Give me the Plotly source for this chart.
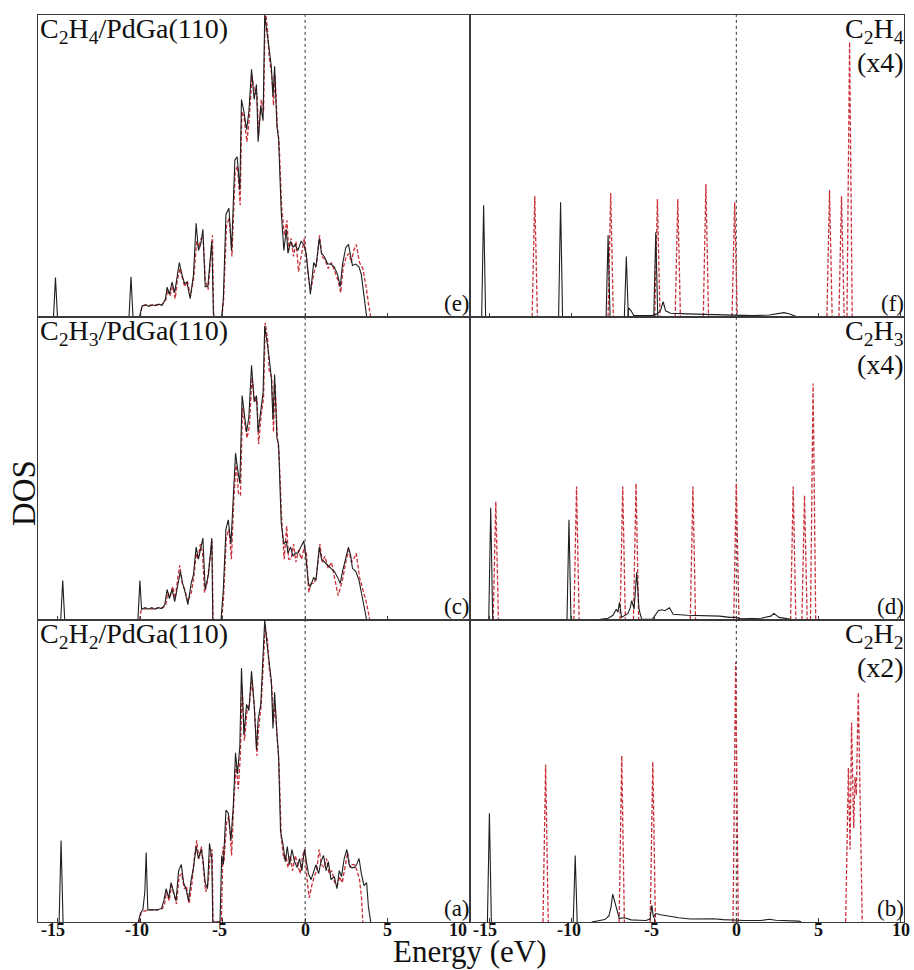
import plotly.graph_objects as go

FONT = "Liberation Serif, Times New Roman, serif"
ENERGY_TICKS = [-15, -10, -5, 0, 5, 10]
FERMI_LEVEL = 0.0
X_RANGE_LEFT = [-16.2, 10.0]
X_RANGE_RIGHT = [-16.2, 10.2]

# ---------------- Left column: adsorbate/PdGa(110) total DOS ----------------
# panel (e) C2H4/PdGa(110)
e_black = [[-10.05,0],[-9.98,0.02],[-9.88,0.037],[-9.68,0.04],[-9.48,0.035],[-9.28,0.04],[-9.08,0.037],
    [-8.88,0.042],[-8.67,0.038],[-8.47,0.06],[-8.37,0.098],[-8.23,0.075],[-8.07,0.115],[-7.91,0.08],
    [-7.77,0.13],[-7.63,0.18],[-7.47,0.14],[-7.31,0.11],[-7.17,0.115],[-6.97,0.06],[-6.77,0.14],
    [-6.61,0.31],[-6.47,0.22],[-6.33,0.24],[-6.20,0.29],[-6.06,0.10],[-5.90,0.10],[-5.76,0.18],
    [-5.66,0.25],[-5.56,0.01],[-5.50,0.0],[-5.06,0.0],[-4.96,0.06],[-4.80,0.34],[-4.62,0.36],
    [-4.46,0.22],[-4.26,0.52],[-4.12,0.53],[-3.96,0.42],[-3.86,0.72],[-3.71,0.68],[-3.55,0.62],
    [-3.41,0.68],[-3.25,0.82],[-3.09,0.72],[-2.95,0.77],[-2.85,0.58],[-2.69,0.70],[-2.55,0.65],
    [-2.45,1.0],[-2.31,0.95],[-2.21,0.90],[-2.05,0.83],[-1.95,0.73],[-1.85,0.83],[-1.71,0.63],
    [-1.61,0.59],[-1.45,0.35],[-1.29,0.22],[-1.14,0.29],[-1.04,0.21],[-0.88,0.25],[-0.74,0.23],
    [-0.60,0.24],[-0.44,0.22],[-0.24,0.25],[-0.08,0.24],[0.06,0.21],[0.20,0.14],[0.32,0.075],
    [0.52,0.18],[0.66,0.165],[0.86,0.26],[1.00,0.21],[1.16,0.20],[1.37,0.175],[1.57,0.175],
    [1.77,0.165],[1.97,0.14],[2.13,0.10],[2.27,0.175],[2.47,0.23],[2.63,0.24],[2.77,0.20],
    [2.87,0.17],[3.07,0.175],[3.27,0.165],[3.41,0.14],[3.57,0.075],[3.73,0.0]]
e_red = [[-10.0,0],[-9.9,0.035],[-9.6,0.04],[-9.3,0.038],[-9.0,0.04],[-8.7,0.04],[-8.45,0.055],
    [-8.33,0.09],[-8.2,0.07],[-8.03,0.10],[-7.88,0.06],[-7.75,0.12],[-7.6,0.16],[-7.45,0.13],
    [-7.3,0.10],[-7.15,0.12],[-6.95,0.07],[-6.75,0.13],[-6.58,0.25],[-6.45,0.23],[-6.3,0.26],
    [-6.18,0.26],[-6.05,0.12],[-5.88,0.09],[-5.72,0.2],[-5.62,0.27],[-5.55,0.0],[-5.05,0.0],
    [-4.95,0.05],[-4.77,0.3],[-4.6,0.33],[-4.44,0.2],[-4.24,0.48],[-4.1,0.5],[-3.94,0.37],
    [-3.84,0.68],[-3.7,0.66],[-3.53,0.58],[-3.38,0.66],[-3.22,0.80],[-3.06,0.74],[-2.92,0.74],
    [-2.82,0.60],[-2.66,0.72],[-2.52,0.68],[-2.42,1.02],[-2.28,0.95],[-2.18,0.86],[-2.02,0.8],
    [-1.92,0.70],[-1.82,0.80],[-1.68,0.63],[-1.58,0.58],[-1.42,0.36],[-1.26,0.27],[-1.1,0.32],
    [-1.0,0.22],[-0.85,0.26],[-0.7,0.20],[-0.55,0.25],[-0.4,0.15],[-0.2,0.22],[-0.05,0.26],
    [0.08,0.2],[0.22,0.12],[0.35,0.09],[0.55,0.15],[0.7,0.18],[0.88,0.27],[1.02,0.2],[1.2,0.19],
    [1.4,0.16],[1.6,0.18],[1.8,0.15],[2.0,0.12],[2.16,0.08],[2.3,0.16],[2.5,0.2],[2.66,0.21],
    [2.8,0.18],[2.95,0.22],[3.1,0.24],[3.3,0.18],[3.5,0.16],[3.7,0.1],[3.85,0.04],[3.98,0.0]]
e_black_peak_E = [-15.14, -10.56]
e_black_peak_DOS = [0.13, 0.133]

# panel (c) C2H3/PdGa(110)
c_black = [[-10.14,0],[-10.02,0.13],[-9.92,0.035],[-9.7,0.04],[-9.5,0.035],[-9.3,0.04],[-9.1,0.035],
    [-8.9,0.04],[-8.7,0.037],[-8.51,0.05],[-8.37,0.10],[-8.23,0.07],[-8.07,0.10],[-7.91,0.06],
    [-7.77,0.10],[-7.57,0.16],[-7.43,0.12],[-7.27,0.09],[-7.11,0.05],[-6.91,0.12],[-6.77,0.15],
    [-6.61,0.24],[-6.47,0.20],[-6.33,0.24],[-6.20,0.27],[-6.06,0.10],[-5.86,0.15],[-5.66,0.27],
    [-5.60,0.0],[-5.10,0.0],[-4.96,0.10],[-4.80,0.30],[-4.66,0.33],[-4.50,0.25],[-4.36,0.42],
    [-4.22,0.55],[-4.10,0.50],[-3.96,0.45],[-3.82,0.74],[-3.69,0.68],[-3.55,0.62],[-3.41,0.67],
    [-3.25,0.84],[-3.09,0.72],[-2.95,0.74],[-2.85,0.62],[-2.69,0.70],[-2.55,0.75],[-2.45,0.97],
    [-2.31,0.92],[-2.21,0.88],[-2.05,0.80],[-1.95,0.66],[-1.85,0.81],[-1.71,0.60],[-1.61,0.58],
    [-1.45,0.32],[-1.29,0.25],[-1.14,0.26],[-1.04,0.22],[-0.88,0.24],[-0.74,0.21],[-0.60,0.22],
    [-0.44,0.22],[-0.24,0.24],[-0.08,0.26],[0.06,0.20],[0.20,0.12],[0.32,0.11],[0.52,0.14],
    [0.66,0.13],[0.86,0.24],[1.00,0.20],[1.16,0.19],[1.37,0.18],[1.57,0.17],[1.77,0.16],
    [1.97,0.14],[2.13,0.12],[2.27,0.16],[2.47,0.21],[2.63,0.24],[2.77,0.21],[2.87,0.17],
    [3.07,0.16],[3.27,0.13],[3.41,0.09],[3.57,0.05],[3.73,0.0]]
c_red = [[-10.05,0],[-9.95,0.03],[-9.8,0.035],[-9.5,0.037],[-9.2,0.035],[-8.9,0.04],[-8.6,0.04],
    [-8.45,0.05],[-8.33,0.09],[-8.2,0.075],[-8.03,0.11],[-7.88,0.07],[-7.72,0.14],[-7.6,0.18],
    [-7.45,0.12],[-7.3,0.10],[-7.12,0.06],[-6.9,0.09],[-6.75,0.14],[-6.6,0.22],[-6.5,0.20],
    [-6.35,0.25],[-6.22,0.22],[-6.1,0.09],[-5.95,0.12],[-5.75,0.22],[-5.64,0.26],[-5.58,0.0],
    [-5.06,0.0],[-4.95,0.07],[-4.78,0.27],[-4.62,0.30],[-4.47,0.2],[-4.32,0.4],[-4.18,0.52],
    [-4.05,0.42],[-3.92,0.41],[-3.8,0.70],[-3.65,0.64],[-3.52,0.60],[-3.38,0.64],[-3.22,0.80],
    [-3.06,0.72],[-2.92,0.73],[-2.82,0.58],[-2.66,0.68],[-2.52,0.73],[-2.42,0.98],[-2.28,0.93],
    [-2.17,0.82],[-2.02,0.8],[-1.92,0.62],[-1.82,0.78],[-1.68,0.60],[-1.58,0.55],[-1.42,0.33],
    [-1.27,0.20],[-1.12,0.31],[-1.0,0.20],[-0.85,0.20],[-0.7,0.25],[-0.56,0.19],[-0.4,0.23],
    [-0.22,0.20],[-0.05,0.24],[0.08,0.22],[0.22,0.09],[0.36,0.12],[0.55,0.12],[0.7,0.15],
    [0.9,0.25],[1.04,0.19],[1.2,0.21],[1.4,0.17],[1.6,0.19],[1.8,0.14],[2.0,0.08],[2.16,0.11],
    [2.3,0.14],[2.5,0.20],[2.66,0.23],[2.8,0.19],[2.95,0.20],[3.1,0.22],[3.3,0.14],[3.5,0.1],
    [3.7,0.06],[3.85,0.02],[3.92,0.0]]
c_black_peak_E = [-14.7]
c_black_peak_DOS = [0.13]

# panel (a) C2H2/PdGa(110)
a_black = [[-10.12,0],[-9.98,0.03],[-9.84,0.04],[-9.72,0.10],[-9.64,0.23],[-9.54,0.04],[-9.28,0.04],
    [-8.98,0.04],[-8.71,0.045],[-8.57,0.07],[-8.43,0.11],[-8.27,0.08],[-8.13,0.13],[-7.97,0.10],
    [-7.83,0.07],[-7.67,0.17],[-7.51,0.19],[-7.37,0.13],[-7.23,0.11],[-7.07,0.07],[-6.91,0.14],
    [-6.77,0.18],[-6.61,0.25],[-6.47,0.21],[-6.31,0.24],[-6.20,0.21],[-6.06,0.13],[-5.92,0.11],
    [-5.80,0.26],[-5.66,0.21],[-5.60,0.0],[-5.16,0.0],[-5.06,0.22],[-4.96,0.19],[-4.80,0.37],
    [-4.66,0.36],[-4.50,0.27],[-4.36,0.38],[-4.22,0.56],[-4.10,0.49],[-3.96,0.58],[-3.86,0.84],
    [-3.71,0.62],[-3.55,0.72],[-3.41,0.70],[-3.25,0.83],[-3.09,0.72],[-2.95,0.57],[-2.85,0.67],
    [-2.69,0.72],[-2.55,0.92],[-2.45,1.0],[-2.31,0.92],[-2.21,0.87],[-2.05,0.80],[-1.95,0.64],
    [-1.85,0.76],[-1.71,0.62],[-1.61,0.55],[-1.49,0.30],[-1.35,0.26],[-1.20,0.20],[-1.08,0.25],
    [-0.94,0.19],[-0.80,0.24],[-0.64,0.20],[-0.48,0.18],[-0.34,0.21],[-0.20,0.17],[-0.04,0.24],
    [0.06,0.20],[0.20,0.16],[0.36,0.14],[0.52,0.17],[0.66,0.19],[0.82,0.16],[0.96,0.20],
    [1.12,0.22],[1.27,0.17],[1.41,0.20],[1.57,0.14],[1.77,0.15],[1.93,0.11],[2.07,0.17],
    [2.21,0.15],[2.37,0.21],[2.53,0.24],[2.67,0.19],[2.81,0.18],[2.97,0.18],[3.13,0.19],
    [3.27,0.21],[3.41,0.16],[3.57,0.12],[3.73,0.13],[3.84,0.05],[3.98,0.0]]
a_red = [[-10.05,0],[-9.95,0.03],[-9.8,0.035],[-9.5,0.04],[-9.2,0.04],[-8.9,0.04],[-8.65,0.045],
    [-8.52,0.06],[-8.4,0.10],[-8.25,0.07],[-8.1,0.12],[-7.95,0.09],[-7.8,0.06],[-7.64,0.15],
    [-7.48,0.16],[-7.33,0.11],[-7.2,0.12],[-7.04,0.06],[-6.88,0.12],[-6.74,0.20],[-6.58,0.27],
    [-6.43,0.21],[-6.28,0.25],[-6.16,0.17],[-6.03,0.10],[-5.88,0.13],[-5.76,0.22],[-5.64,0.24],
    [-5.58,0.0],[-5.08,0.0],[-4.98,0.25],[-4.92,0.2],[-4.76,0.33],[-4.62,0.35],[-4.46,0.22],
    [-4.32,0.40],[-4.18,0.52],[-4.05,0.44],[-3.93,0.55],[-3.82,0.78],[-3.68,0.60],[-3.52,0.70],
    [-3.38,0.72],[-3.22,0.80],[-3.06,0.70],[-2.92,0.55],[-2.82,0.64],[-2.66,0.72],[-2.52,0.88],
    [-2.42,0.98],[-2.28,0.93],[-2.18,0.84],[-2.02,0.78],[-1.92,0.66],[-1.82,0.72],[-1.68,0.60],
    [-1.58,0.52],[-1.45,0.28],[-1.3,0.21],[-1.16,0.22],[-1.04,0.18],[-0.9,0.22],[-0.76,0.17],
    [-0.6,0.22],[-0.45,0.19],[-0.3,0.16],[-0.15,0.22],[0.0,0.24],[0.1,0.15],[0.25,0.08],
    [0.4,0.12],[0.55,0.15],[0.7,0.17],[0.85,0.24],[1.0,0.19],[1.15,0.18],[1.3,0.21],[1.45,0.16],
    [1.62,0.17],[1.8,0.13],[1.95,0.12],[2.1,0.15],[2.25,0.13],[2.42,0.19],[2.58,0.23],[2.72,0.18],
    [2.86,0.19],[3.0,0.19],[3.15,0.17],[3.3,0.14],[3.42,0.08],[3.5,0.0]]
a_black_peak_E = [-14.8]
a_black_peak_DOS = [0.27]

# ---------------- Right column: molecule DOS ----------------
# panel (f) C2H4 (x4)
f_black_peak_E = [-15.37, -10.69, -7.80, -6.69, -4.90]
f_black_peak_DOS = [0.37, 0.38, 0.27, 0.20, 0.28]
f_black = [[-6.6,0.0],[-6.55,0.03],[-6.4,0.02],[-6.25,0.005],[-5.1,0.004],[-4.8,0.01],[-4.62,0.02],
    [-4.45,0.05],[-4.3,0.02],[-4.0,0.012],[-3.0,0.01],[-2.0,0.008],[-1.0,0.006],[0.0,0.004],
    [1.0,0.004],[2.0,0.006],[2.6,0.012],[2.9,0.014],[3.2,0.01],[3.6,0.002],[3.7,0]]
f_red_peak_E = [-12.26, -7.64, -4.80, -3.56, -1.85, -0.10, 5.67, 6.40, 6.89]
f_red_peak_DOS = [0.40, 0.41, 0.39, 0.39, 0.44, 0.38, 0.42, 0.40, 0.91]

# panel (d) C2H3 (x4)
d_black_peak_E = [-14.94, -10.18]
d_black_peak_DOS = [0.37, 0.33]
d_black = [[-8.5,0],[-7.8,0.005],[-7.5,0.015],[-7.3,0.035],[-7.2,0.025],[-7.11,0.058],[-6.98,0.008],
    [-6.6,0.02],[-6.45,0.04],[-6.36,0.063],[-6.22,0.035],[-6.06,0.157],[-5.92,0.035],[-5.76,0.002],
    [-5.10,0.002],[-4.9,0.02],[-4.75,0.03],[-4.53,0.033],[-4.35,0.03],[-4.07,0.04],[-3.84,0.018],
    [-3.0,0.015],[-2.0,0.013],[-1.0,0.012],[-0.4,0.008],[0.0,0.008],[0.25,0.003],[1.5,0.005],
    [2.1,0.012],[2.28,0.021],[2.6,0.008],[3.3,0.003],[3.5,0]]
d_red_peak_E = [-14.63, -9.72, -6.91, -6.10, -2.64, 0.0, 3.46, 4.15, 4.67]
d_red_peak_DOS = [0.39, 0.44, 0.44, 0.45, 0.44, 0.45, 0.44, 0.41, 0.78]

# panel (b) C2H2 (x2)
b_black_peak_E = [-15.02, -9.80]
b_black_peak_DOS = [0.36, 0.22]
b_black = [[-8.8,0.0],[-8.0,0.008],[-7.75,0.02],[-7.62,0.05],[-7.52,0.092],[-7.32,0.048],[-7.12,0.012],
    [-6.8,0.014],[-6.4,0.007],[-5.9,0.006],[-5.5,0.005],[-5.25,0.01],[-5.14,0.055],[-5.04,0.015],
    [-4.9,0.028],[-4.6,0.024],[-4.2,0.02],[-3.5,0.014],[-2.8,0.01],[-2.0,0.01],[-1.4,0.011],
    [-0.8,0.008],[-0.2,0.006],[0.5,0.005],[1.5,0.005],[2.0,0.009],[2.4,0.006],[3.0,0.005],
    [3.8,0.003],[3.95,0.0]]
b_red_peak_E = [-11.6, -6.97, -5.08, -0.04]
b_red_peak_DOS = [0.52, 0.55, 0.53, 0.86]
b_red_cluster = [[6.65,0],[6.82,0.51],[6.92,0.24],[7.01,0.66],[7.14,0.31],[7.22,0.48],[7.3,0.42],
    [7.42,0.76],[7.66,0]]

LEFT_TITLES = ["C<sub>2</sub>H<sub>4</sub>/PdGa(110)", "C<sub>2</sub>H<sub>3</sub>/PdGa(110)",
               "C<sub>2</sub>H<sub>2</sub>/PdGa(110)"]
RIGHT_TITLES = ["C<sub>2</sub>H<sub>4</sub>", "C<sub>2</sub>H<sub>3</sub>", "C<sub>2</sub>H<sub>2</sub>"]
SCALE_LABELS = ["(x4)", "(x4)", "(x2)"]
LEFT_LETTERS = ["(e)", "(c)", "(a)"]
RIGHT_LETTERS = ["(f)", "(d)", "(b)"]

BLACK = dict(color="#1e1e1e", width=1.1)
RED = dict(color="#c9303a", width=1.3, dash="4px,2px")
SPIKE_HW_BLACK = 0.12
SPIKE_HW_RED = 0.16
TICK_FONT = dict(family=FONT, size=18, color="#111")


def unzip(pairs):
    return [p[0] for p in pairs], [p[1] for p in pairs]


def spikes(centers, heights, hw):
    xs, ys = [], []
    for c, h in zip(centers, heights):
        xs += [c - hw, c, c + hw, None]
        ys += [0, h, 0, None]
    return xs, ys


def sfx(n):
    return "" if n == 1 else str(n)


fig = go.Figure()


def add_line(xs, ys, n, style):
    fig.add_trace(go.Scatter(x=xs, y=ys, mode="lines", line=style, xaxis="x" + sfx(n),
                             yaxis="y" + sfx(n), hoverinfo="skip", showlegend=False,
                             connectgaps=False))


# axis ids: row1 -> 1,2 ; row2 -> 3,4 ; row3 -> 5,6
left_sets = [(e_black, e_red, e_black_peak_E, e_black_peak_DOS, 1),
             (c_black, c_red, c_black_peak_E, c_black_peak_DOS, 3),
             (a_black, a_red, a_black_peak_E, a_black_peak_DOS, 5)]
for blk, red, pe, pd, n in left_sets:
    x, y = unzip(red)
    add_line(x, y, n, RED)
    x, y = unzip(blk)
    add_line(x, y, n, BLACK)
    x, y = spikes(pe, pd, SPIKE_HW_BLACK)
    add_line(x, y, n, BLACK)

right_sets = [(f_black, f_black_peak_E, f_black_peak_DOS, f_red_peak_E, f_red_peak_DOS, None, 2),
              (d_black, d_black_peak_E, d_black_peak_DOS, d_red_peak_E, d_red_peak_DOS, None, 4),
              (b_black, b_black_peak_E, b_black_peak_DOS, b_red_peak_E, b_red_peak_DOS, b_red_cluster, 6)]
for blk, bpe, bpd, rpe, rpd, cluster, n in right_sets:
    x, y = spikes(rpe, rpd, SPIKE_HW_RED)
    add_line(x, y, n, RED)
    if cluster:
        x, y = unzip(cluster)
        add_line(x, y, n, RED)
    x, y = unzip(blk)
    add_line(x, y, n, BLACK)
    x, y = spikes(bpe, bpd, SPIKE_HW_BLACK)
    add_line(x, y, n, BLACK)

# ---------------- layout ----------------
W, H = 914, 970
ML, MR, MT, MB = 38, 10, 15, 48
split = 432 / (W - ML - MR)
row_domains = [[0.6672, 1.0], [0.3332, 0.6672], [0.0, 0.3332]]

axis_common = dict(showline=True, linecolor="#3a3a3a", linewidth=1, mirror=True,
                   showgrid=False, zeroline=False)
layout = dict(width=W, height=H, margin=dict(l=ML, r=MR, t=MT, b=MB),
              paper_bgcolor="white", plot_bgcolor="white", showlegend=False,
              font=dict(family=FONT, color="#111"))

shapes = []
annotations = []
for r in range(3):
    for c in range(2):
        n = r * 2 + c + 1
        s = sfx(n)
        xr = X_RANGE_LEFT if c == 0 else X_RANGE_RIGHT
        tv = [t for t in ENERGY_TICKS if xr[0] < t <= xr[1]]
        layout["xaxis" + s] = dict(axis_common, domain=[0, split] if c == 0 else [split, 1],
                                   range=xr, anchor="y" + s, ticks="inside", ticklen=4,
                                   tickcolor="#3a3a3a", tickvals=tv, showticklabels=False)
        layout["yaxis" + s] = dict(axis_common, domain=row_domains[r], range=[0, 1.0],
                                   anchor="x" + s, showticklabels=False, ticks="")
        shapes.append(dict(type="line", xref="x" + s, yref="y%s domain" % s,
                           x0=FERMI_LEVEL, x1=FERMI_LEVEL, y0=0, y1=1, layer="below",
                           line=dict(color="#333", width=1, dash="dot")))
        dx, dy = "x%s domain" % s, "y%s domain" % s
        if c == 0:
            annotations.append(dict(text=LEFT_TITLES[r], xref=dx, yref=dy,
                                    x=0, y=1, xanchor="left", yanchor="top", showarrow=False,
                                    xshift=1, yshift=3, borderpad=0,
                                    font=dict(family=FONT, size=28, color="#111")))
            annotations.append(dict(text=LEFT_LETTERS[r], xref=dx, yref=dy,
                                    x=1, y=0, xanchor="right", yanchor="bottom", showarrow=False,
                                    xshift=1, yshift=0, borderpad=0,
                                    font=dict(family=FONT, size=23, color="#111")))
        else:
            annotations.append(dict(text=RIGHT_TITLES[r], xref=dx, yref=dy,
                                    x=1, y=1, xanchor="right", yanchor="top", showarrow=False,
                                    xshift=1, yshift=3, borderpad=0,
                                    font=dict(family=FONT, size=28, color="#111")))
            annotations.append(dict(text=SCALE_LABELS[r], xref=dx, yref=dy,
                                    x=1, y=1, xanchor="right", yanchor="top", showarrow=False,
                                    xshift=1, yshift=-31, borderpad=0,
                                    font=dict(family=FONT, size=28, color="#111")))
            annotations.append(dict(text=RIGHT_LETTERS[r], xref=dx, yref=dy,
                                    x=1, y=0, xanchor="right", yanchor="bottom", showarrow=False,
                                    xshift=1, yshift=0, borderpad=0,
                                    font=dict(family=FONT, size=23, color="#111")))

# bold energy tick labels under the bottom row (edge labels tucked inside the column divider)
for axis_name, xr in (("x5", X_RANGE_LEFT), ("x6", X_RANGE_RIGHT)):
    for t in ENERGY_TICKS:
        ann = dict(text="<b>%d</b>" % t, xref=axis_name, yref="paper", x=t, y=0,
                   xanchor="center", yanchor="top", showarrow=False, yshift=3,
                   xshift=-3 if t < 0 else 0, borderpad=0, font=TICK_FONT)
        if t >= xr[1]:
            ann.update(xanchor="right", xshift=-2)
        if t - 1.5 < xr[0]:
            ann.update(xref=axis_name + " domain", x=0, xanchor="left", xshift=2)
        annotations.append(ann)

# axis titles
annotations.append(dict(text="DOS", xref="paper", yref="paper", x=-0.016, y=0.473, textangle=-90,
                        xanchor="center", yanchor="middle", showarrow=False, borderpad=0,
                        font=dict(family=FONT, size=33, color="#111")))
annotations.append(dict(text="Energy (eV)", xref="paper", yref="paper", x=0.499, y=-MB / (H - MT - MB),
                        xanchor="center", yanchor="bottom", showarrow=False, borderpad=0, yshift=0,
                        font=dict(family=FONT, size=31, color="#111")))

layout["shapes"] = shapes
layout["annotations"] = annotations
fig.update_layout(**layout)
fig.write_html("out.html", config={"displayModeBar": False},
               post_script="document.body.style.margin='0px';")
